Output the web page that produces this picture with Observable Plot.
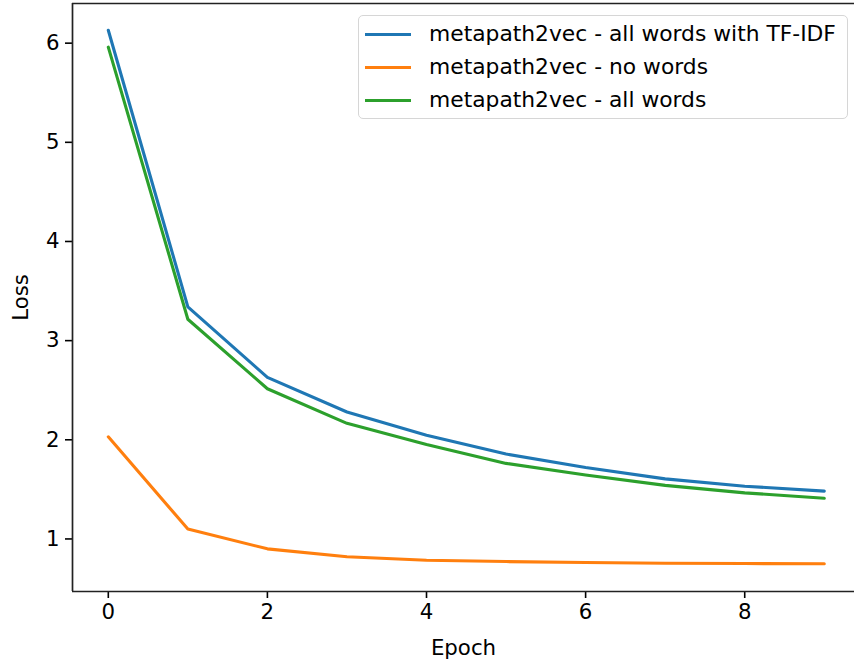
<!DOCTYPE html>
<html>
<head>
<meta charset="utf-8">
<script src="https://cdn.jsdelivr.net/npm/d3@7"></script>
<script src="https://cdn.jsdelivr.net/npm/@observablehq/plot@0.6"></script>
<style>
  html, body { margin: 0; padding: 0; background: #fff; }
  #wrap { position: relative; width: 854px; height: 668px; font-family: "DejaVu Sans", sans-serif; }
  #legend {
    position: absolute; left: 358px; top: 15px; width: 490px; height: 104px;
    border: 1.5px solid #d6d6d6; border-radius: 5px; background: rgba(255,255,255,0.8);
    box-sizing: border-box;
  }
  .item { position: absolute; left: 0; height: 34px; display: flex; align-items: center; }
  .swatch { position: absolute; left: 6px; width: 46px; height: 3px; }
  .lab { position: absolute; left: 70px; font-size: 21.8px; color: #000; white-space: nowrap; line-height: 1; }
</style>
</head>
<body>
<div id="wrap"></div>
<script>
const epochs = [0, 1, 2, 3, 4, 5, 6, 7, 8, 9];
const seriesNames = [
  "metapath2vec - all words with TF-IDF",
  "metapath2vec - no words",
  "metapath2vec - all words"
];
const seriesColors = ["#1f77b4", "#ff7f0e", "#2ca02c"];
const lossTfidf    = [6.13, 3.34, 2.63, 2.28, 2.045, 1.856, 1.72, 1.606, 1.532, 1.482];
const lossNoWords  = [2.03, 1.10, 0.90, 0.82, 0.785, 0.772, 0.762, 0.755, 0.752, 0.75];
const lossAllWords = [5.96, 3.216, 2.515, 2.166, 1.953, 1.762, 1.644, 1.54, 1.465, 1.41];
const xTicks = [0, 2, 4, 6, 8];
const yTicks = [1, 2, 3, 4, 5, 6];

const seriesValues = [lossTfidf, lossNoWords, lossAllWords];
const rows = [];
seriesNames.forEach((name, i) => {
  epochs.forEach((e, j) => rows.push({series: name, epoch: e, loss: seriesValues[i][j]}));
});

const xDomain = [-0.45, 9.38];
const yDomain = [0.47, 6.40];

const chart = Plot.plot({
  width: 854,
  height: 668,
  marginLeft: 72,
  marginRight: 0,
  marginTop: 3,
  marginBottom: 77,
  style: {fontFamily: "DejaVu Sans", fontSize: "21.3px", color: "#000", background: "#fff"},
  x: {domain: xDomain},
  y: {domain: yDomain},
  color: {domain: seriesNames, range: seriesColors},
  marks: [
    Plot.axisX({ticks: xTicks, tickSize: 7, tickPadding: 5, tickFormat: d => String(d),
      label: "Epoch", labelAnchor: "center", labelArrow: "none", labelOffset: 63, strokeWidth: 1.6}),
    Plot.axisY({ticks: yTicks, tickSize: 7, tickPadding: 6, tickFormat: d => String(d),
      label: "Loss", labelAnchor: "center", labelArrow: "none", labelOffset: 60, strokeWidth: 1.6}),
    Plot.lineY(rows, {x: "epoch", y: "loss", stroke: "series", z: "series", strokeWidth: 3.1}),
    Plot.ruleX([xDomain[0]], {stroke: "#222", strokeWidth: 1.7}),
    Plot.ruleY([yDomain[0], yDomain[1]], {stroke: "#222", strokeWidth: 1.7})
  ]
});

const wrap = document.getElementById("wrap");
wrap.appendChild(chart);

const legend = document.createElement("div");
legend.id = "legend";
seriesNames.forEach((name, i) => {
  const item = document.createElement("div");
  item.className = "item";
  item.style.top = (1 + i * 33) + "px";
  const sw = document.createElement("div");
  sw.className = "swatch";
  sw.style.background = seriesColors[i];
  const lab = document.createElement("div");
  lab.className = "lab";
  lab.textContent = name;
  item.appendChild(sw);
  item.appendChild(lab);
  legend.appendChild(item);
});
wrap.appendChild(legend);
</script>
</body>
</html>
